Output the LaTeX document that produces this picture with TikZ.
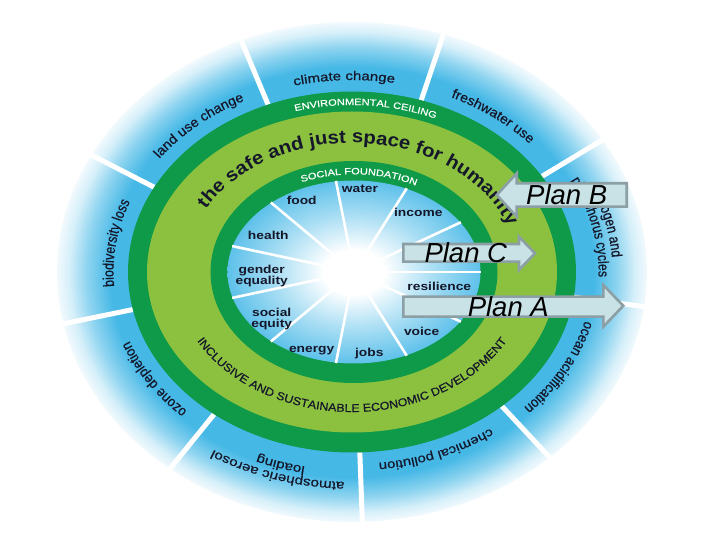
\documentclass[tikz,border=0pt]{standalone}
\usepackage{fontspec}
\setmainfont{Liberation Sans}
\newfontfamily\inb[FakeStretch=1.2]{Liberation Sans}
\newfontfamily\plf{Liberation Sans}
\newfontfamily\fHa[FakeStretch=1.2,FakeBold=0.6]{Liberation Sans}
\newfontfamily\fHb[FakeStretch=1.04,FakeBold=0.6]{Liberation Sans}
\newfontfamily\fHc[FakeStretch=0.9,FakeBold=0.6]{Liberation Sans}
\newfontfamily\fHd[FakeStretch=0.82,FakeBold=0.6]{Liberation Sans}
\newfontfamily\fHe[FakeStretch=1.1,FakeBold=0.6]{Liberation Sans}
\newfontfamily\fSafe[FakeStretch=1.1]{Liberation Sans}
\usetikzlibrary{decorations.text}
\definecolor{dgreen}{HTML}{0E9A48}
\definecolor{lgreen}{HTML}{8CC13F}
\definecolor{halo}{HTML}{45B8E6}
\colorlet{halomid}{halo!60!white}
\colorlet{halolow}{halo!22!white}
\definecolor{innerblue}{HTML}{5EC1EA}
\colorlet{innermid}{innerblue!55!white}
\definecolor{planfill}{HTML}{C8E2E6}
\definecolor{planedge}{HTML}{8C9FA4}
\definecolor{ink}{HTML}{15172A}
\pgfdeclareradialshading{haloshade}{\pgfpoint{0bp}{0bp}}{color(0bp)=(halo); color(20.5bp)=(halo); color(22.5bp)=(halomid); color(24bp)=(halolow); color(25.5bp)=(white); color(50bp)=(white)}
\pgfdeclareradialshading{innershade}{\pgfpoint{0bp}{0bp}}{color(0bp)=(white); color(6bp)=(white); color(16bp)=(innermid); color(25bp)=(innerblue); color(50bp)=(innerblue)}
\newcommand\curvetext[6]{%
  \path[decorate,decoration={text along path,text align=center,text={|#5|#6}}]
    (#1:#3 and #4) arc[start angle=#1,end angle=#2,x radius=#3,y radius=#4];}
\begin{document}
\begin{tikzpicture}[x=1pt,y=1pt,
  outspoke/.style={white,line width=5pt},
  inspoke/.style={white,line width=2.6pt},
  inlab/.style={font=\inb\bfseries\fontsize{11.5}{11}\selectfont,text=ink,align=center,inner sep=0pt,text depth=0pt},
  planshape/.style={fill=planfill,draw=planedge,line width=2.6pt,line join=miter},
  plantext/.style={font=\plf\itshape\fontsize{27.5}{30}\selectfont,text=black,inner sep=0pt,text depth=0pt}]
\useasboundingbox (-352,-268) rectangle (368,272);
\fill[white] (-352,-268) rectangle (368,272);
% halo
\path[shading=haloshade] (0,0) ellipse[x radius=295,y radius=250];
\foreach \a in {112,72,...,-208} \draw[outspoke] (\a:224 and 180.5) -- (\a:296 and 250);
% rings
\fill[dgreen] (0,0) ellipse[x radius=224,y radius=180.5];
\fill[lgreen] (0,0) ellipse[x radius=205,y radius=160.5];
\begin{scope}[xshift=2]
\fill[dgreen] (0,0) ellipse[x radius=143.5,y radius=111];
\path[shading=innershade] (0,0) ellipse[x radius=126.5,y radius=91.5];
\foreach \k in {0,...,10} \draw[inspoke] (0,0) -- ({\k*360/11}:127 and 92);
\curvetext{122.6}{52.6}{132}{97.7}{\fHa\fontsize{9.2}{11}\selectfont\color{white}}{SOCIAL FOUNDATION}
\end{scope}
% inner labels
\node[inlab] (water) at (8,83.7) {water};
\node[inlab] (food) at (-50.3,72) {food};
\node[inlab] (income) at (66.3,59.3) {income};
\node[inlab] (health) at (-83.7,37) {health};
\node[inlab] (gender) at (-90.3,-2.7) {gender\\equality};
\node[inlab] (social) at (-80.3,-45.5) {social\\equity};
\node[inlab] (energy) at (-40.3,-77) {energy};
\node[inlab] (jobs) at (17.3,-80.3) {jobs};
\node[inlab] (voice) at (69.7,-59.7) {voice};
\node[inlab] (resilience) at (87.3,-14.7) {resilience};
% ring texts
\curvetext{121}{51}{211}{167}{\fHa\fontsize{9.2}{11}\selectfont\color{white}}{ENVIRONMENTAL CEILING}
\path[decorate,decoration={text along path,text={|\fSafe\bfseries\fontsize{18.5}{20}\selectfont\color{ink}|the safe and just space for humanity}}]
  (151:167 and 129) arc[start angle=151,end angle=0,x radius=167,y radius=129];
\curvetext{205}{335}{178}{140}{\fHe\fontsize{11.3}{13}\selectfont\color{ink}}{INCLUSIVE AND SUSTAINABLE ECONOMIC DEVELOPMENT}
% outer labels
\curvetext{127}{57}{238.5}{192}{\fHa\fontsize{12.5}{14}\selectfont\color{ink}}{climate change}
\curvetext{87}{17}{238.5}{192}{\fHb\fontsize{13.5}{15}\selectfont\color{ink}}{freshwater use}
\curvetext{52}{-28}{260.5}{210}{\fHd\fontsize{15}{17}\selectfont\color{ink}}{nitrogen and}
\curvetext{52}{-28}{246.5}{198}{\fHd\fontsize{15}{17}\selectfont\color{ink}}{phosphorus cycles}
\curvetext{7}{-63}{240.5}{193.5}{\fHc\fontsize{14.5}{16}\selectfont\color{ink}}{ocean acidification}
\curvetext{-33}{-103}{238.5}{192}{\fHa\fontsize{12.4}{14}\selectfont\color{ink}}{chemical pollution}
\curvetext{-68}{-148}{260.5}{210}{\fHa\fontsize{12.6}{14}\selectfont\color{ink}}{atmospheric aerosol}
\curvetext{-68}{-148}{246.5}{198}{\fHa\fontsize{12.6}{14}\selectfont\color{ink}}{loading}
\curvetext{-113}{-183}{238.5}{192}{\fHc\fontsize{14.4}{16}\selectfont\color{ink}}{ozone depletion}
\curvetext{207}{137}{238.5}{192}{\fHd\fontsize{15.1}{17}\selectfont\color{ink}}{biodiversity loss}
\curvetext{167}{97}{238.5}{192}{\fHb\fontsize{13.6}{15}\selectfont\color{ink}}{land use change}
% plan arrows
\draw[planshape] (144.7,77) -- (164.7,98.7) -- (164.7,88.7) -- (274.7,88.7) -- (274.7,65.3) -- (164.7,65.3) -- (164.7,55.3) -- cycle;
\node[plantext] (planB) at (214.7,77) {Plan B};
\draw[planshape] (51.3,28) -- (167,28) -- (167,35.3) -- (183,18.7) -- (167,2) -- (167,10.3) -- (51.3,10.3) -- cycle;
\node[plantext] (planC) at (113.8,19.5) {Plan C};
\draw[planshape] (51.3,-24.7) -- (251.3,-24.7) -- (251.3,-13) -- (271.3,-33.8) -- (251.3,-54.7) -- (251.3,-44.7) -- (51.3,-44.7) -- cycle;
\node[plantext] (planA) at (156.3,-34.7) {Plan A};
\end{tikzpicture}
\end{document}
